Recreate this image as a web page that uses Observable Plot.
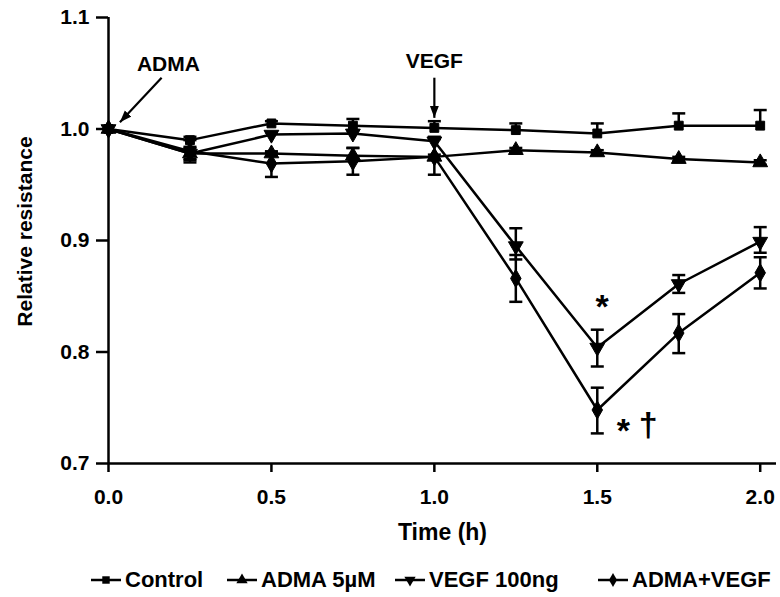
<!DOCTYPE html>
<html>
<head>
<meta charset="utf-8">
<script src="https://cdn.jsdelivr.net/npm/d3@7"></script>
<script src="https://cdn.jsdelivr.net/npm/@observablehq/plot@0.6"></script>
<style>
  html, body { margin: 0; padding: 0; background: #fff; }
  #chart { width: 780px; }
  .legend { position: relative; width: 780px; height: 37px; font-family: "Liberation Sans", Arial, sans-serif; font-weight: bold; font-size: 22px; color: #000; }
  .legend .item { position: absolute; top: 7px; display: flex; align-items: center; height: 26px; white-space: nowrap; }
  .legend svg { margin-right: 3px; }
</style>
</head>
<body>
<div id="chart"></div>
<script>
// ---- data ----
const times = [0, 0.25, 0.5, 0.75, 1.0, 1.25, 1.5, 1.75, 2.0];
const seriesNames = ["Control", "ADMA 5\u00b5M", "VEGF 100ng", "ADMA+VEGF"];

const control       = [1.000, 0.990, 1.005, 1.003, 1.001, 0.999, 0.996, 1.003, 1.003];
const controlErrUp  = [0, 0.003, 0.002, 0.006, 0.006, 0.006, 0.009, 0.011, 0.014];
const controlErrDn  = [0, 0, 0, 0, 0, 0, 0, 0, 0];

const adma          = [1.000, 0.978, 0.978, 0.976, 0.975, 0.981, 0.979, 0.973, 0.970];
const admaErrUp     = [0, 0.005, 0.002, 0.007, 0.002, 0.002, 0.002, 0.002, 0.002];
const admaErrDn     = [0, 0.005, 0.002, 0.002, 0.002, 0.002, 0.002, 0.002, 0.002];

const vegf          = [1.000, 0.978, 0.995, 0.996, 0.989, 0.895, 0.804, 0.861, 0.899];
const vegfErrUp     = [0, 0.006, 0.002, 0.003, 0.004, 0.016, 0.016, 0.008, 0.013];
const vegfErrDn     = [0, 0.006, 0, 0, 0, 0.012, 0.017, 0.008, 0.010];

const admaVegf      = [1.000, 0.980, 0.969, 0.971, 0.975, 0.866, 0.748, 0.817, 0.871];
const admaVegfErrUp = [0, 0.010, 0.010, 0.012, 0.016, 0.021, 0.020, 0.017, 0.014];
const admaVegfErrDn = [0, 0.010, 0.012, 0.012, 0.016, 0.021, 0.021, 0.018, 0.014];

const xTicks = [0, 0.5, 1.0, 1.5, 2.0];
const yTicks = [0.7, 0.8, 0.9, 1.0, 1.1];

// annotations (data coordinates)
const annoLabels = [
  {text: "ADMA", t: 0.184, v: 1.058},
  {text: "VEGF", t: 1.0, v: 1.061}
];
const annoArrows = [
  {t1: 0.163, v1: 1.046, t2: 0.035, v2: 1.006},
  {t1: 1.0, v1: 1.046, t2: 1.0, v2: 1.010}
];
const sigMarks = [
  {text: "*", t: 1.515, v: 0.840},
  {text: "*", t: 1.58, v: 0.729},
  {text: "\u2020", t: 1.656, v: 0.734}
];

// ---- build rows ----
const seriesData = [
  [control, controlErrUp, controlErrDn],
  [adma, admaErrUp, admaErrDn],
  [vegf, vegfErrUp, vegfErrDn],
  [admaVegf, admaVegfErrUp, admaVegfErrDn]
];
const rows = [];
seriesData.forEach(([vals, up, dn], si) => {
  vals.forEach((v, i) => rows.push({series: seriesNames[si], t: times[i], v, hi: v + up[i], lo: v - dn[i], up: up[i], dn: dn[i]}));
});

// ---- custom symbols ----
const triangleDown = {
  draw(ctx, size) {
    const y = -Math.sqrt(size / (Math.sqrt(3) * 3));
    ctx.moveTo(0, -y * 2);
    ctx.lineTo(-Math.sqrt(3) * y, y);
    ctx.lineTo(Math.sqrt(3) * y, y);
    ctx.closePath();
  }
};
const capSymbol = {
  draw(ctx, size) { ctx.moveTo(-6.5, 0); ctx.lineTo(6.5, 0); }
};
const symbols = ["square", "triangle", triangleDown, "diamond"];
const symbolR = [5, 5.5, 5.5, 5.5];

function filledArrow(color) {
  const ns = "http://www.w3.org/2000/svg";
  const m = document.createElementNS(ns, "marker");
  m.setAttribute("viewBox", "-12 -5 12 10");
  m.setAttribute("markerWidth", 12);
  m.setAttribute("markerHeight", 10);
  m.setAttribute("refX", 0);
  m.setAttribute("refY", 0);
  m.setAttribute("orient", "auto");
  m.setAttribute("markerUnits", "userSpaceOnUse");
  const p = document.createElementNS(ns, "path");
  p.setAttribute("d", "M-12,-4.5L0,0L-12,4.5Z");
  p.setAttribute("fill", color);
  p.setAttribute("stroke", "none");
  m.appendChild(p);
  return m;
}

const SW = 2.5;
const marks = [];
// axes (ticks via axis marks, labels via text marks)
marks.push(Plot.axisX({ticks: xTicks, tickFormat: () => "", tickSize: 9, strokeWidth: SW, label: null}));
marks.push(Plot.axisY({ticks: yTicks, tickFormat: () => "", tickSize: 12, strokeWidth: SW, label: null}));
marks.push(Plot.text(xTicks, {x: d => d, frameAnchor: "bottom", dy: 34, lineAnchor: "middle", textAnchor: "middle", text: d => d.toFixed(1), fontSize: 21, fontWeight: "bold", fill: "black"}));
marks.push(Plot.text(yTicks, {y: d => d, frameAnchor: "left", dx: -19, lineAnchor: "middle", textAnchor: "end", text: d => d.toFixed(1), fontSize: 21, fontWeight: "bold", fill: "black"}));
marks.push(Plot.ruleY([0.7], {strokeWidth: SW}));
marks.push(Plot.ruleX([0], {y1: 0.7, y2: 1.1, strokeWidth: SW}));

// lines
seriesNames.forEach(name => {
  marks.push(Plot.line(rows.filter(d => d.series === name), {x: "t", y: "v", stroke: "black", strokeWidth: SW}));
});
// error bars
const upRows = rows.filter(d => d.up > 0);
const dnRows = rows.filter(d => d.dn > 0);
marks.push(Plot.ruleX(upRows, {x: "t", y1: "v", y2: "hi", strokeWidth: SW}));
marks.push(Plot.ruleX(dnRows, {x: "t", y1: "v", y2: "lo", strokeWidth: SW}));
marks.push(Plot.dot(upRows, {x: "t", y: "hi", symbol: capSymbol, stroke: "black", fill: "none", strokeWidth: SW, r: 4}));
marks.push(Plot.dot(dnRows, {x: "t", y: "lo", symbol: capSymbol, stroke: "black", fill: "none", strokeWidth: SW, r: 4}));
// markers
seriesNames.forEach((name, i) => {
  marks.push(Plot.dot(rows.filter(d => d.series === name), {x: "t", y: "v", symbol: symbols[i], r: symbolR[i], fill: "black", stroke: "black", strokeWidth: 1}));
});
// annotations
marks.push(Plot.text(annoLabels, {x: "t", y: "v", text: "text", fontSize: 21, fontWeight: "bold", fill: "black"}));
marks.push(Plot.link(annoArrows, {x1: "t1", y1: "v1", x2: "t2", y2: "v2", stroke: "black", strokeWidth: 2.2, markerEnd: filledArrow}));
marks.push(Plot.text(sigMarks, {x: "t", y: "v", text: "text", fontSize: 34, fontWeight: "bold", fill: "black"}));
// axis titles
marks.push(Plot.text(["Time (h)"], {frameAnchor: "bottom", dy: 69, lineAnchor: "middle", textAnchor: "middle", fontSize: 23, fontWeight: "bold", fill: "black"}));
marks.push(Plot.text(["Relative resistance"], {frameAnchor: "left", dx: -83, dy: -9, rotate: -90, textAnchor: "middle", lineAnchor: "middle", fontSize: 21, fontWeight: "bold", fill: "black"}));

const chart = Plot.plot({
  width: 780,
  height: 560,
  marginLeft: 108,
  marginRight: 4,
  marginTop: 17,
  marginBottom: 97,
  x: {domain: [0, 2.05]},
  y: {domain: [0.7, 1.1]},
  style: {fontFamily: "'Liberation Sans', Arial, sans-serif", fontWeight: "bold", fontSize: "21px", color: "black", background: "white"},
  marks
});
document.getElementById("chart").appendChild(chart);

// legend (HTML, below the SVG)
const legend = document.createElement("div");
legend.className = "legend";
const legendLefts = [90, 226, 394, 597];
seriesNames.forEach((name, i) => {
  const item = document.createElement("div");
  item.className = "item";
  item.style.left = legendLefts[i] + "px";
  const s = d3.create("svg").attr("width", 32).attr("height", 20);
  s.append("line").attr("x1", 1).attr("x2", 31).attr("y1", 10).attr("y2", 10).attr("stroke", "black").attr("stroke-width", 2.5);
  const sym = typeof symbols[i] === "string"
    ? {square: d3.symbolSquare, triangle: d3.symbolTriangle, diamond: d3.symbolDiamond}[symbols[i]]
    : symbols[i];
  s.append("path").attr("transform", "translate(16,10)").attr("d", d3.symbol(sym, Math.PI * 4.2 * 4.2)()).attr("fill", "black");
  item.appendChild(s.node());
  const t = document.createElement("span");
  t.textContent = name;
  item.appendChild(t);
  legend.appendChild(item);
});
document.body.appendChild(legend);
</script>
</body>
</html>
